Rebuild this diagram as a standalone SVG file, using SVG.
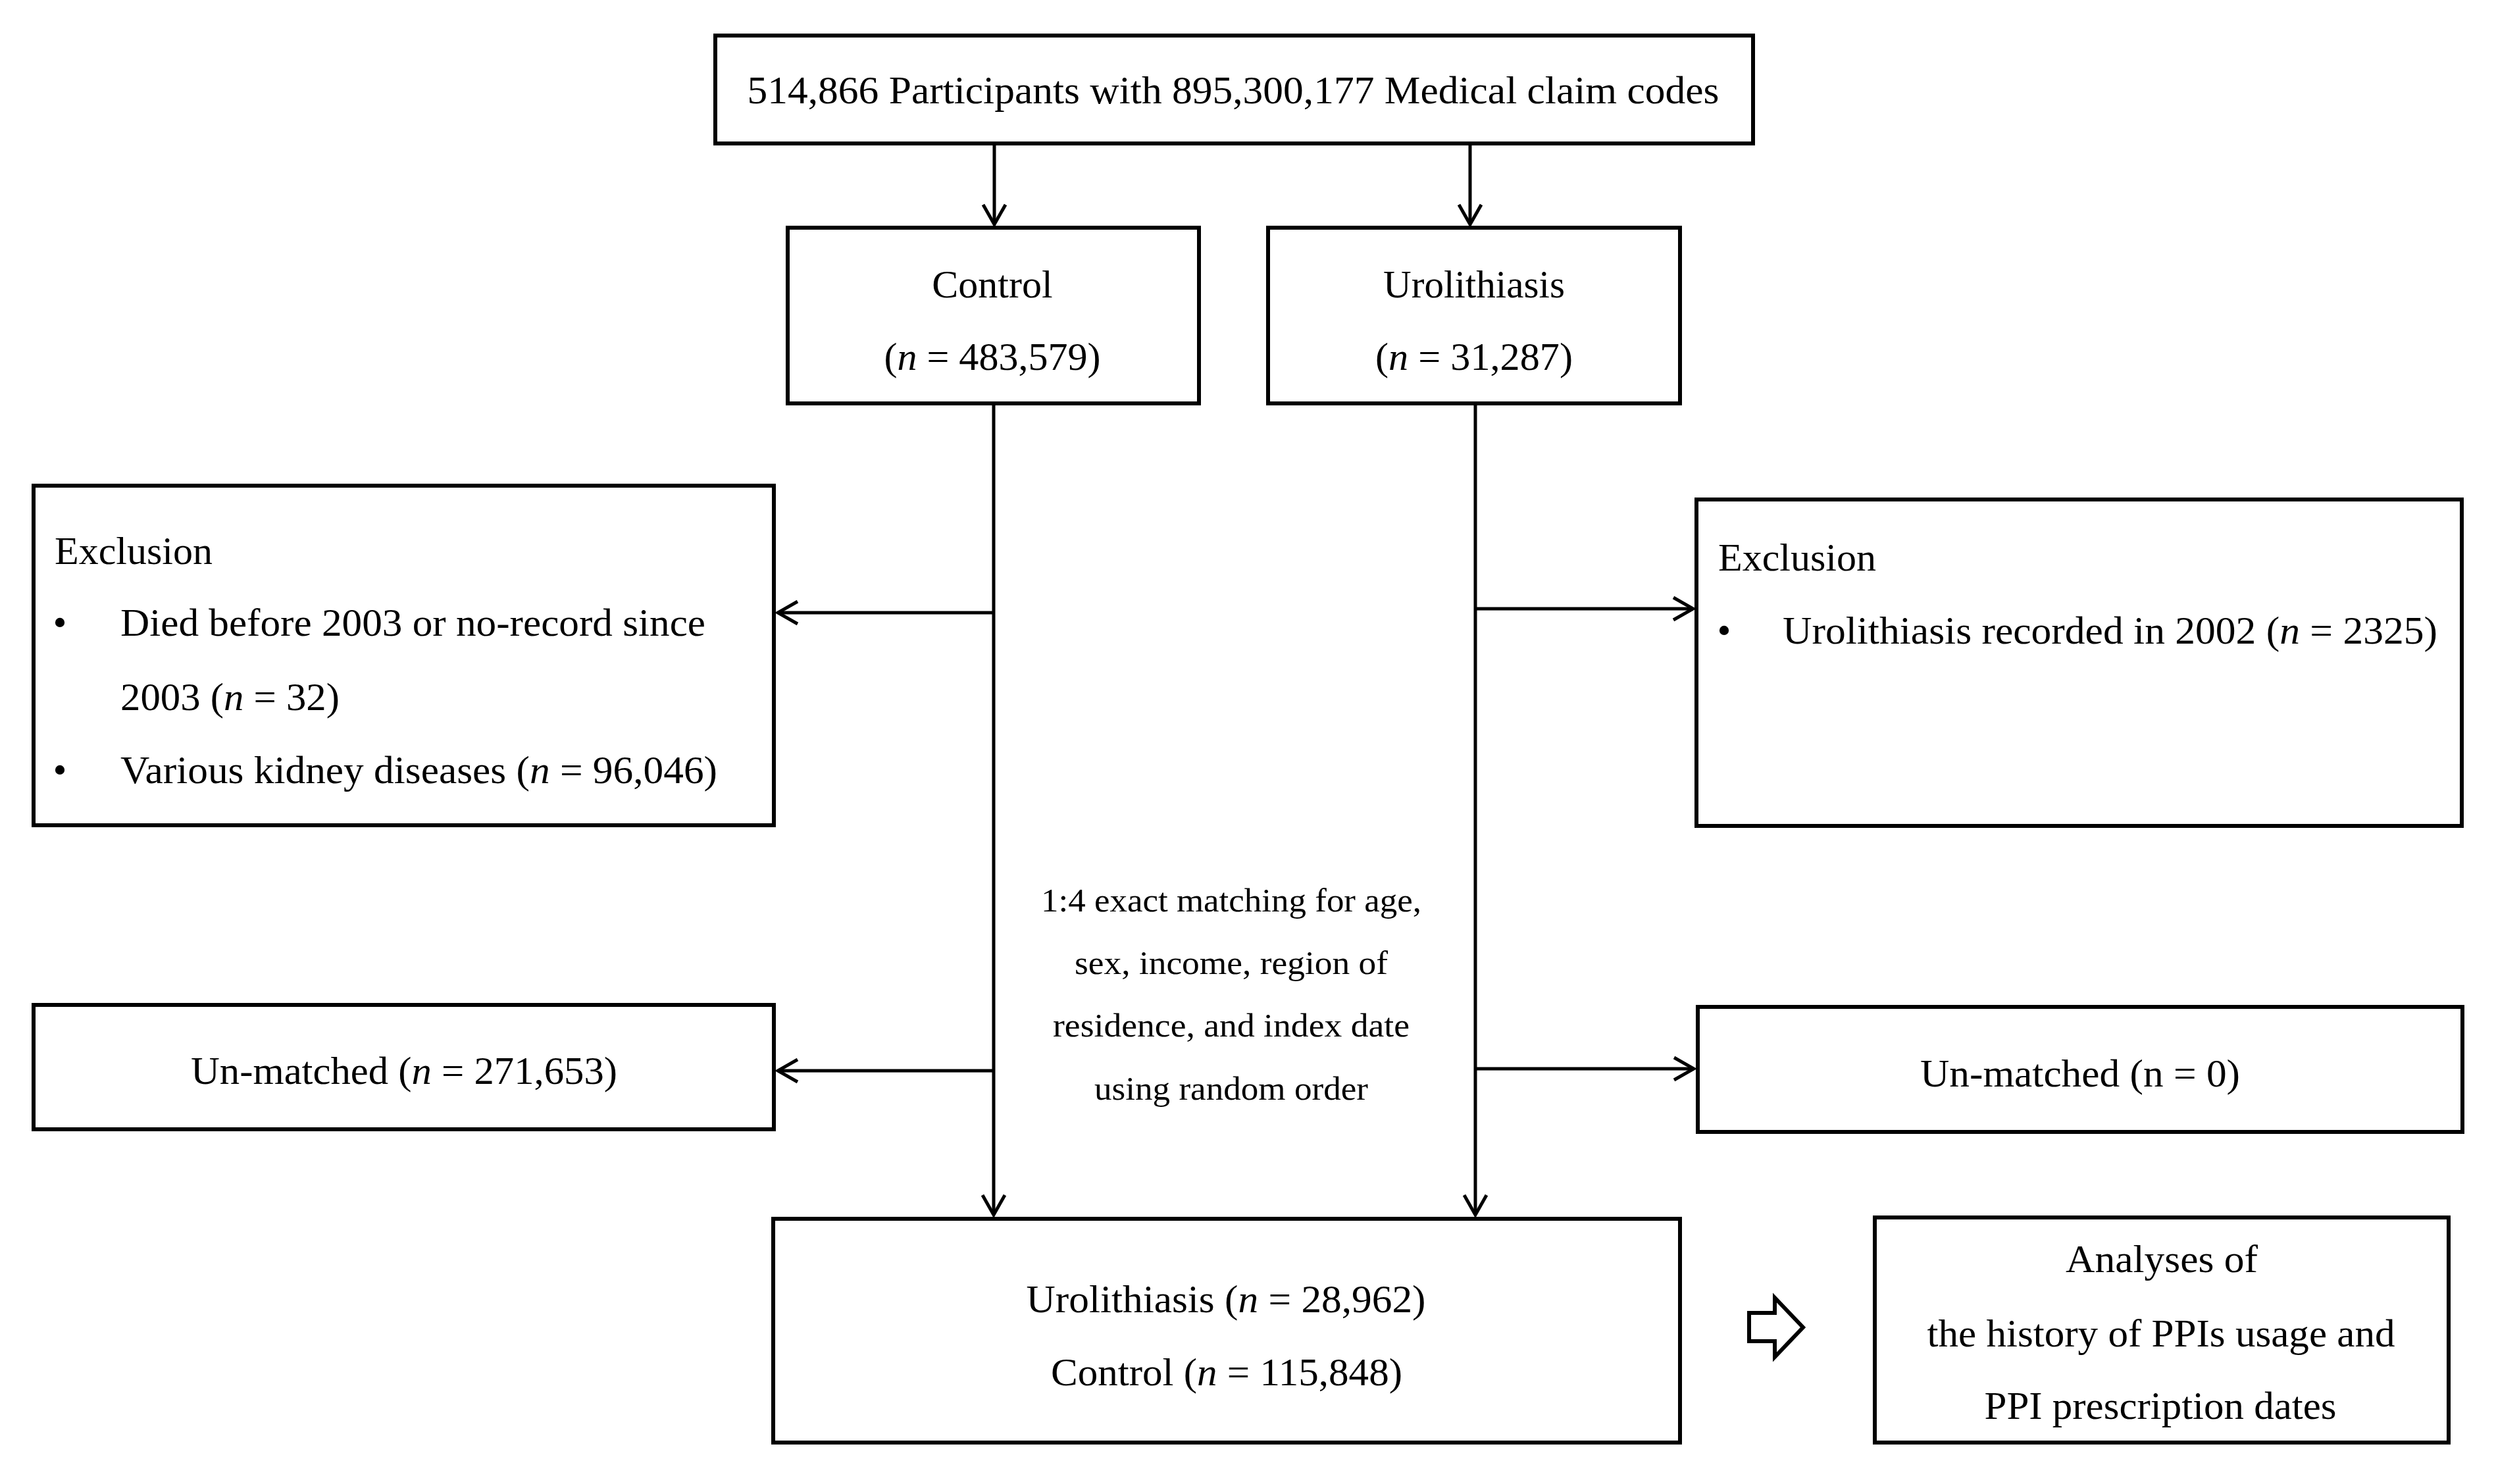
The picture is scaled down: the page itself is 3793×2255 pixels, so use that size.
<svg xmlns="http://www.w3.org/2000/svg" width="3793" height="2255" viewBox="0 0 3793 2255">
<style>
.box{fill:#fff;stroke:#000;stroke-width:6}
.ln{fill:none;stroke:#000;stroke-width:5}
text{font-family:"Liberation Serif","Times New Roman",serif;font-size:60px;fill:#000}
.c{text-anchor:middle}
.m{font-size:50px}
.i{font-style:italic}
</style>
<defs>
<marker id="ah" viewBox="-34 -20 38 40" refX="0" refY="0" markerWidth="38" markerHeight="40" markerUnits="userSpaceOnUse" orient="auto">
<path d="M-30,-17 L0,0 L-30,17" fill="none" stroke="#000" stroke-width="5"/>
</marker>
</defs>
<rect width="3793" height="2255" fill="#fff"/>
<g id="connectors">
<line class="ln" x1="1511" y1="218" x2="1511" y2="341" marker-end="url(#ah)"/>
<line class="ln" x1="2234" y1="218" x2="2234" y2="341" marker-end="url(#ah)"/>
<line class="ln" x1="1510" y1="614" x2="1510" y2="1846" marker-end="url(#ah)"/>
<line class="ln" x1="2242" y1="614" x2="2242" y2="1846" marker-end="url(#ah)"/>
<line class="ln" x1="1510" y1="931" x2="1182" y2="931" marker-end="url(#ah)"/>
<line class="ln" x1="2242" y1="925" x2="2573" y2="925" marker-end="url(#ah)"/>
<line class="ln" x1="1510" y1="1627" x2="1182" y2="1627" marker-end="url(#ah)"/>
<line class="ln" x1="2242" y1="1624" x2="2574" y2="1624" marker-end="url(#ah)"/>
<path d="M2658,1995 H2697 V1972 L2740,2017 L2697,2062 V2038 H2658 Z" fill="#fff" stroke="#000" stroke-width="6" stroke-linejoin="miter"/>
</g>
<g id="top">
<rect class="box" x="1087" y="54" width="1577" height="164"/>
<text class="c" x="1874" y="157" textLength="1477" lengthAdjust="spacingAndGlyphs">514,866 Participants with 895,300,177 Medical claim codes</text>
</g>
<g id="control">
<rect class="box" x="1197" y="346" width="625" height="267"/>
<text class="c" x="1508" y="452">Control</text>
<text class="c" x="1508" y="562" textLength="329" lengthAdjust="spacingAndGlyphs">(<tspan class="i">n</tspan> = 483,579)</text>
</g>
<g id="urolithiasis">
<rect class="box" x="1927" y="346" width="626" height="267"/>
<text class="c" x="2240" y="452" textLength="276" lengthAdjust="spacingAndGlyphs">Urolithiasis</text>
<text class="c" x="2240" y="562" textLength="300" lengthAdjust="spacingAndGlyphs">(<tspan class="i">n</tspan> = 31,287)</text>
</g>
<g id="exclusion-left">
<rect class="box" x="51" y="738" width="1125" height="516"/>
<text x="83" y="857">Exclusion</text>
<text class="c" x="91" y="966">•</text>
<text x="183" y="966" textLength="889" lengthAdjust="spacingAndGlyphs">Died before 2003 or no-record since</text>
<text x="183" y="1079" textLength="333" lengthAdjust="spacingAndGlyphs">2003 (<tspan class="i">n</tspan> = 32)</text>
<text class="c" x="91" y="1190">•</text>
<text x="183" y="1190" textLength="907" lengthAdjust="spacingAndGlyphs">Various kidney diseases (<tspan class="i">n</tspan> = 96,046)</text>
</g>
<g id="exclusion-right">
<rect class="box" x="2578" y="759" width="1163" height="496"/>
<text x="2611" y="867">Exclusion</text>
<text class="c" x="2620" y="978">•</text>
<text x="2709" y="978" textLength="995" lengthAdjust="spacingAndGlyphs">Urolithiasis recorded in 2002 (<tspan class="i">n</tspan> = 2325)</text>
</g>
<g id="matching-note">
<text class="c m" x="1871" y="1385" textLength="578" lengthAdjust="spacingAndGlyphs">1:4 exact matching for age,</text>
<text class="c m" x="1871" y="1480" textLength="476" lengthAdjust="spacingAndGlyphs">sex, income, region of</text>
<text class="c m" x="1871" y="1575" textLength="542" lengthAdjust="spacingAndGlyphs">residence, and index date</text>
<text class="c m" x="1871" y="1671" textLength="416" lengthAdjust="spacingAndGlyphs">using random order</text>
</g>
<g id="unmatched-left">
<rect class="box" x="51" y="1527" width="1125" height="189"/>
<text class="c" x="614" y="1647" textLength="648" lengthAdjust="spacingAndGlyphs">Un-matched (<tspan class="i">n</tspan> = 271,653)</text>
</g>
<g id="unmatched-right">
<rect class="box" x="2580" y="1530" width="1162" height="190"/>
<text class="c" x="3161" y="1651" textLength="486" lengthAdjust="spacingAndGlyphs">Un-matched (n = 0)</text>
</g>
<g id="matched">
<rect class="box" x="1175" y="1852" width="1378" height="340"/>
<text class="c" x="1863" y="1994" textLength="607" lengthAdjust="spacingAndGlyphs">Urolithiasis (<tspan class="i">n</tspan> = 28,962)</text>
<text class="c" x="1864" y="2105" textLength="534" lengthAdjust="spacingAndGlyphs">Control (<tspan class="i">n</tspan> = 115,848)</text>
</g>
<g id="analyses">
<rect class="box" x="2849" y="1850" width="872" height="342"/>
<text class="c" x="3285" y="1933" textLength="292" lengthAdjust="spacingAndGlyphs">Analyses of</text>
<text class="c" x="3284" y="2046" textLength="711" lengthAdjust="spacingAndGlyphs">the history of PPIs usage and</text>
<text class="c" x="3283" y="2156" textLength="535" lengthAdjust="spacingAndGlyphs">PPI prescription dates</text>
</g>
</svg>
